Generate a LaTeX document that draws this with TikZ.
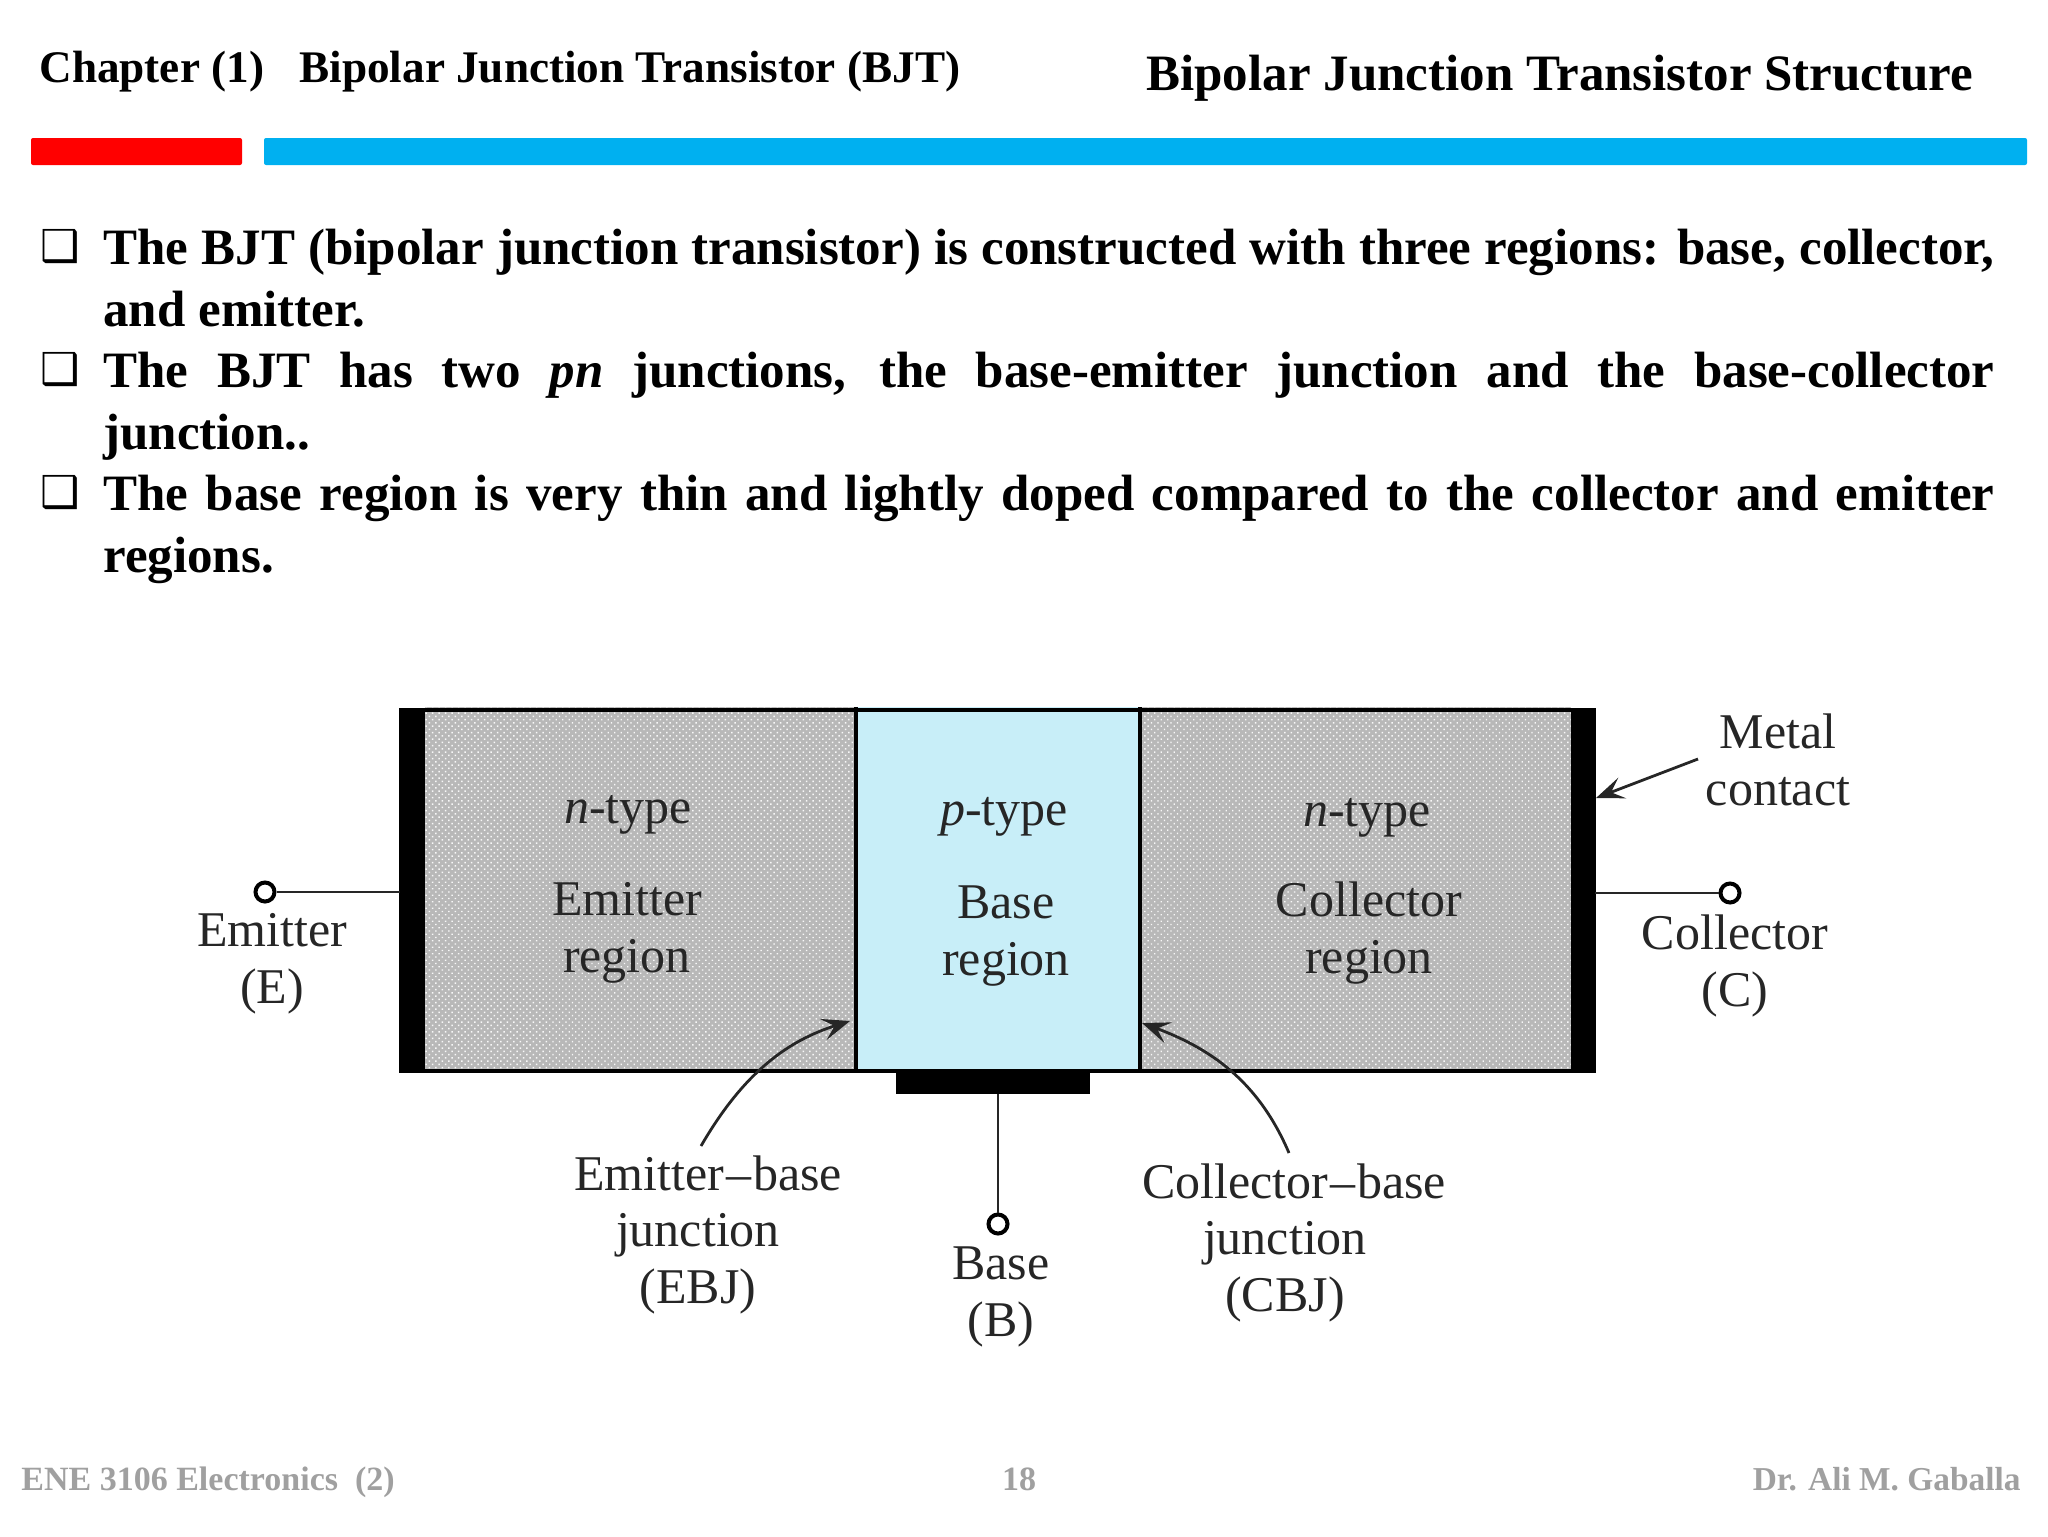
\documentclass[tikz,border=0pt]{standalone}
\usepackage{fontspec}
\setmainfont{Liberation Serif}
\newfontfamily\symfont{DejaVu Sans}
\usetikzlibrary{arrows.meta,patterns.meta}
\hyphenpenalty=10000
\tolerance=9999
\definecolor{barred}{RGB}{255,0,0}
\definecolor{barblue}{RGB}{0,176,240}
\definecolor{baseblue}{RGB}{200,238,248}
\definecolor{regiongray}{RGB}{184,184,184}
\definecolor{inkgray}{RGB}{38,38,38}
\definecolor{footgray}{RGB}{160,160,160}
\tikzset{
    headtext/.style={inner sep=0pt, font=\fontsize{22.6}{26}\selectfont\bfseries},
    titletext/.style={inner sep=0pt, font=\fontsize{25.5}{30}\selectfont\bfseries},
    bodytext/.style={inner sep=0pt, anchor=north west, text width=945.5pt, align=justify,
        font=\fontsize{25.5}{30.8}\selectfont\bfseries},
    bullettext/.style={inner sep=0pt, font=\fontsize{22}{26}\selectfont\symfont},
    foottext/.style={inner sep=0pt, text=footgray, font=\fontsize{17}{20}\selectfont\bfseries},
    figtext/.style={inner sep=0pt, text=inkgray, align=center,
        font=\fontsize{25}{28.3}\selectfont},
    pin/.style={circle, draw=black, line width=2pt, fill=white, inner sep=0pt, minimum size=9.5pt},
    wire/.style={draw=inkgray, line width=1.2pt},
    pointer/.style={draw=inkgray, line width=1.4pt, -{Stealth[length=14pt, width=11pt, inset=6pt]}},
    dotted region/.style={pattern={Dots[radius=0.5pt, distance=2.3pt, angle=45]}, pattern color=white!90!regiongray}
}
\begin{document}
\begin{tikzpicture}[x=0.5pt, y=-0.5pt]
    \useasboundingbox (0,0) rectangle (2048,1536);

    % header
    \node[headtext, anchor=west] (chapter) at (39,72) {Chapter (1)};
    \node[headtext, anchor=west] (subject) at (299,72) {Bipolar Junction Transistor (BJT)};
    \node[titletext, anchor=west] (title) at (1146,78) {Bipolar Junction Transistor Structure};
    \fill[barred, rounded corners=1pt] (31,138) rectangle (242,165);
    \fill[barblue, rounded corners=1pt] (264,138) rectangle (2027,165);

    % bullets
    \node[bullettext] (mark1) at (60,247) {❑};
    \node[bullettext] (mark2) at (60,370) {❑};
    \node[bullettext] (mark3) at (60,493) {❑};
    \node[bodytext] (item1) at (103,229) {The BJT (bipolar junction transistor) is constructed with three regions: base, collector, and emitter.};
    \node[bodytext] (item2) at (103,352) {The BJT has two \textit{pn} junctions, the base-emitter junction and the base-collector\linebreak junction..};
    \node[bodytext] (item3) at (103,475) {The base region is very thin and lightly doped compared to the collector and emitter regions.};

    % regions
    \fill[regiongray] (425,707) rectangle (855,1072);
    \fill[dotted region] (425,707) rectangle (855,1072);
    \fill[regiongray] (1140,707) rectangle (1571,1072);
    \fill[dotted region] (1140,707) rectangle (1571,1072);
    \fill[baseblue] (855,707) rectangle (1140,1072);
    \draw[line width=1.7pt] (401,710) rectangle (1594,1071);
    \draw[line width=1.7pt] (856,707) -- (856,1072);
    \draw[line width=1.7pt] (1140,707) -- (1140,1072);

    % metal contacts
    \fill[black] (400,708) rectangle (425,1073);
    \fill[black] (1571,708) rectangle (1595,1073);
    \fill[black] (896,1072) rectangle (1090,1094);

    % terminals
    \coordinate (emitend) at (400,892);
    \coordinate (collend) at (1595,893);
    \coordinate (baseend) at (998,1094);
    \node[pin] (emitpin) at (265,892) {};
    \node[pin] (collpin) at (1730,893) {};
    \node[pin] (basepin) at (998,1224) {};
    \draw[wire] (emitpin) -- (emitend);
    \draw[wire] (collpin) -- (collend);
    \draw[wire] (basepin) -- (baseend);

    % text in the regions
    \node[figtext] (emittype) at (628,815) {\textit{n}-type};
    \node[figtext] (emitname) at (627,933) {Emitter\\region};
    \node[figtext] (basetype) at (1004,817) {\textit{p}-type};
    \node[figtext] (basename) at (1006,936) {Base\\region};
    \node[figtext] (colltype) at (1367,818) {\textit{n}-type};
    \node[figtext] (collname) at (1369,933) {Collector\\region};

    % text round the device
    \node[figtext] (emitlabel) at (272,964) {Emitter\\(E)};
    \node[figtext] (colllabel) at (1735,966) {Collector\\(C)};
    \node[figtext] (baselabel) at (1001,1297) {Base\\(B)};
    \node[figtext] (metallabel) at (1778,760) {Metal\\contact};
    \node[figtext] (ebjlabel) at (708,1173) {Emitter\kern1pt--\kern1pt base};
    \node[figtext] (ebjnote) at (698,1264) {junction\\(EBJ)};
    \node[figtext] (cbjlabel) at (1294,1181) {Collector\kern1pt--\kern1pt base};
    \node[figtext] (cbjnote) at (1285,1272) {junction\\(CBJ)};

    % pointers
    \coordinate (metaltail) at (1698,759);
    \coordinate (metaltip) at (1596,798);
    \coordinate (ebjtail) at (701,1146);
    \coordinate (ebjtip) at (850,1021);
    \coordinate (cbjtail) at (1289,1153);
    \coordinate (cbjtip) at (1142,1023);
    \draw[pointer] (metaltail) -- (metaltip);
    \draw[pointer] (ebjtail) .. controls (745,1070) and (790,1040) .. (ebjtip);
    \draw[pointer] (cbjtail) .. controls (1260,1085) and (1215,1050) .. (cbjtip);

    % footer
    \node[foottext, anchor=base west] (course) at (21,1490) {ENE 3106 Electronics~~(2)};
    \node[foottext, anchor=base] (pageno) at (1019,1490) {18};
    \node[foottext, anchor=base east, font=\fontsize{16.7}{20}\selectfont\bfseries] (lecturer) at (2021,1490) {Dr. Ali M. Gaballa};
\end{tikzpicture}
\end{document}
